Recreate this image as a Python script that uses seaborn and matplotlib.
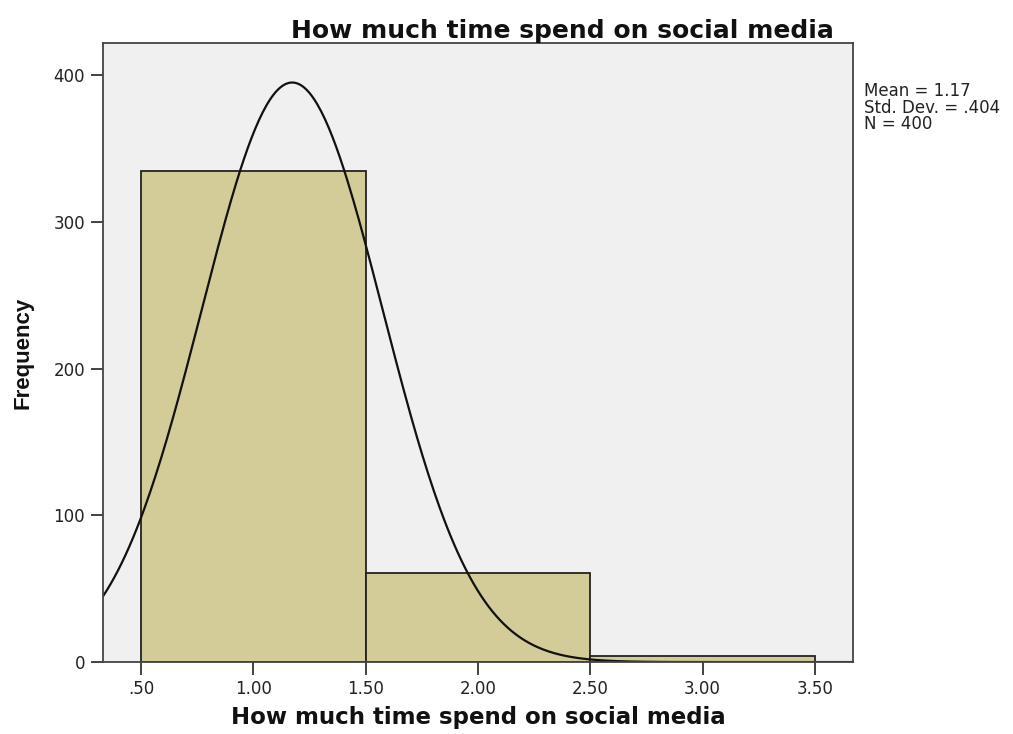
import numpy as np
import pandas as pd
import seaborn as sns
import matplotlib.pyplot as plt

# Data
values = [1, 2, 3]
counts = [335, 61, 4]
bin_edges = [0.5, 1.5, 2.5, 3.5]
tick_pos = [0.5, 1.0, 1.5, 2.0, 2.5, 3.0, 3.5]
tick_labels = ['.50', '1.00', '1.50', '2.00', '2.50', '3.00', '3.50']
y_ticks = [0, 100, 200, 300, 400]

df = pd.DataFrame({'time': values, 'count': counts})

# Summary stats from the counts (shown as Mean = 1.17, Std. Dev. = .404)
n = df['count'].sum()
mean = (df['time'] * df['count']).sum() / n
sd = np.sqrt(((df['time'] - mean) ** 2 * df['count']).sum() / (n - 1))

sns.set_style('white')
plt.rcParams['font.family'] = ['DejaVu Sans']
plt.rcParams['text.color'] = '#111111'
plt.rcParams['axes.labelcolor'] = '#111111'

fig = plt.figure(figsize=(10.13, 7.34), dpi=100)
ax = fig.add_axes([0.1017, 0.098, 0.7403, 0.8434])
ax.set_facecolor('#f0f0f0')

sns.histplot(data=df, x='time', weights='count', bins=bin_edges, ax=ax,
             color='#d3cc98', edgecolor='#222222', linewidth=1.3, alpha=1)

# Normal curve fitted to the data (frequency scale)
xs = np.linspace(0.33, 3.67, 400)
ys = n * 1.0 / (sd * np.sqrt(2 * np.pi)) * np.exp(-0.5 * ((xs - mean) / sd) ** 2)
sns.lineplot(x=xs, y=ys, ax=ax, color='#111111', linewidth=1.6)

ax.set_xlim(0.33, 3.67)
ax.set_ylim(0, 422)
ax.set_xticks(tick_pos)
ax.set_xticklabels(tick_labels)
ax.set_yticks(y_ticks)
ax.tick_params(axis='both', direction='out', length=9, width=1.3,
               color='#333333', labelsize=12, labelcolor='#222222', pad=4,
               bottom=True, left=True)
for s in ax.spines.values():
    s.set_color('#444444')
    s.set_linewidth(1.3)

ax.set_xlabel('How much time spend on social media', fontsize=16.5,
              fontweight='bold', labelpad=6)
ax.set_ylabel('Frequency', fontsize=16, fontweight='bold', labelpad=14,
              family='Liberation Sans')

fig.text(0.555, 0.958, 'How much time spend on social media', ha='center',
         va='center', fontsize=18, fontweight='bold')
fig.text(0.853, 0.888, 'Mean = 1.17\nStd. Dev. = .404\nN = 400',
         ha='left', va='top', fontsize=12, linespacing=0.88, color='#222222')

fig.savefig('out.png', dpi=100)
